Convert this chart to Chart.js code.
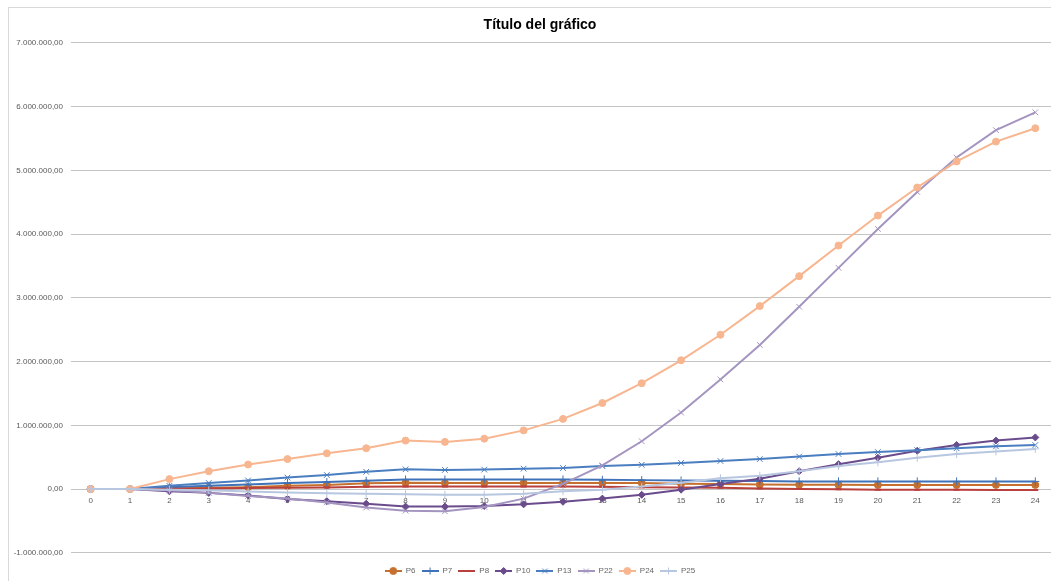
<!DOCTYPE html>
<html>
<head>
<meta charset="utf-8">
<script src="https://cdn.jsdelivr.net/npm/chart.js@4.4.1/dist/chart.umd.min.js"></script>
<style>
  html, body { margin: 0; padding: 0; background: #fff; overflow: hidden; }
  #frame {
    position: absolute; left: 8px; top: 7px;
    width: 1064px; height: 580px;
    border: 1px solid #d9d9d9;
  }
  #chart { display: block; }
</style>
</head>
<body>
<div id="frame"><canvas id="chart" width="1064" height="580"></canvas></div>
<script>
// Chart data
const periods = ['0','1','2','3','4','5','6','7','8','9','10','11','12','13','14','15','16','17','18','19','20','21','22','23','24'];

const p6  = [0, 0, 10000, 20000, 30000, 50000, 65000, 90000, 100000, 95000, 95000, 95000, 95000, 95000, 95000, 85000, 80000, 70000, 68000, 66000, 65000, 65000, 65000, 65000, 65000];
const p7  = [0, 0, 30000, 50000, 70000, 95000, 110000, 130000, 150000, 150000, 150000, 150000, 150000, 145000, 140000, 135000, 130000, 125000, 120000, 120000, 120000, 120000, 120000, 120000, 120000];
const p8  = [0, 0, 5000, 10000, 15000, 20000, 25000, 35000, 40000, 40000, 40000, 40000, 40000, 35000, 30000, 25000, 20000, 10000, 0, -5000, -10000, -10000, -10000, -15000, -15000];
const p10 = [0, 0, -35000, -60000, -100000, -155000, -190000, -230000, -275000, -275000, -265000, -240000, -200000, -150000, -90000, -10000, 80000, 160000, 280000, 390000, 490000, 600000, 690000, 760000, 810000];
const p13 = [0, 0, 50000, 95000, 135000, 180000, 220000, 270000, 310000, 300000, 305000, 320000, 330000, 360000, 380000, 410000, 440000, 470000, 510000, 550000, 580000, 610000, 640000, 670000, 690000];
const p22 = [0, 0, -20000, -60000, -110000, -150000, -210000, -290000, -340000, -350000, -280000, -150000, 80000, 370000, 750000, 1200000, 1720000, 2260000, 2860000, 3470000, 4080000, 4660000, 5200000, 5630000, 5910000];
const p24 = [0, 0, 156000, 280000, 385000, 470000, 560000, 640000, 760000, 740000, 790000, 920000, 1100000, 1350000, 1660000, 2020000, 2420000, 2870000, 3340000, 3820000, 4290000, 4730000, 5140000, 5450000, 5660000];
const p25 = [0, 0, -10000, -20000, -40000, -55000, -65000, -75000, -80000, -90000, -90000, -75000, -35000, -10000, 40000, 100000, 170000, 210000, 280000, 360000, 420000, 490000, 550000, 590000, 630000];

const seriesNames  = ['P6', 'P7', 'P8', 'P10', 'P13', 'P22', 'P24', 'P25'];
const seriesData   = [p6, p7, p8, p10, p13, p22, p24, p25];
const seriesColors = ['#C5702F', '#3F72B8', '#B9403D', '#6A4B8C', '#4A7EC0', '#A495C0', '#F7B690', '#B8C7E0'];
const seriesMarks  = ['circle', 'cross', 'line', 'rectRot', 'crossRot', 'crossRot', 'circle', 'cross'];
const seriesRadius = [3.5, 4, 3, 3.5, 4, 4, 3.5, 4];

// "7.000.000,00" style labels
function fmtNumber(v) {
    const neg = v < 0;
    const whole = Math.round(Math.abs(v)).toString();
    const grouped = whole.replace(/\B(?=(\d{3})+(?!\d))/g, '.');
    return (neg ? '-' : '') + grouped + ',00';
}

// small line+marker swatch for the legend
function makeSwatch(color, mark, radius) {
    const c = document.createElement('canvas');
    c.width = 17;
    c.height = 10;
    const g = c.getContext('2d');
    g.strokeStyle = color;
    g.fillStyle = color;
    g.lineWidth = 2;
    g.beginPath();
    g.moveTo(0, 5);
    g.lineTo(17, 5);
    g.stroke();
    g.lineWidth = 1;
    Chart.helpers.drawPoint(g, { pointStyle: mark, radius: Math.min(radius, 3.5), borderWidth: 1 }, 8.5, 5);
    return c;
}

function initChart() {
    const ctx = document.getElementById('chart');

    const datasets = seriesNames.map((name, i) => ({
        label: name,
        data: seriesData[i],
        borderColor: seriesColors[i],
        backgroundColor: seriesColors[i],
        borderWidth: 2,
        pointStyle: seriesMarks[i],
        pointRadius: seriesRadius[i],
        pointBorderWidth: seriesMarks[i] === 'line' ? 2 : 1,
        pointHoverRadius: seriesRadius[i],
        tension: 0,
        order: -i
    }));

    const swatches = seriesNames.map((n, i) => makeSwatch(seriesColors[i], seriesMarks[i], seriesRadius[i]));

    new Chart(ctx, {
        type: 'line',
        data: { labels: periods, datasets: datasets },
        options: {
            responsive: false,
            animation: false,
            layout: { padding: { left: 16, right: 18, top: 0, bottom: 3 } },
            plugins: {
                title: {
                    display: true,
                    text: 'Título del gráfico',
                    color: '#000',
                    font: { family: 'Liberation Sans', size: 14, weight: 'bold' },
                    padding: { top: 9, bottom: 9 }
                },
                legend: {
                    position: 'bottom',
                    title: {
                        display: true,
                        text: '',
                        font: { size: 1 },
                        padding: { top: 7, bottom: 0 }
                    },
                    labels: {
                        usePointStyle: true,
                        pointStyleWidth: 17,
                        boxHeight: 8,
                        padding: 6,
                        color: '#595959',
                        font: { family: 'Liberation Sans', size: 8 },
                        generateLabels: function(chart) {
                            return chart.data.datasets.map((ds, i) => ({
                                text: ds.label,
                                pointStyle: swatches[i],
                                fillStyle: ds.borderColor,
                                strokeStyle: ds.borderColor,
                                lineWidth: 0,
                                hidden: false,
                                datasetIndex: i
                            }));
                        }
                    }
                },
                tooltip: { enabled: false }
            },
            scales: {
                x: {
                    position: { y: 0 },
                    offset: true,
                    grid: { display: false, drawTicks: false },
                    border: { display: false },
                    ticks: {
                        color: '#595959',
                        font: { family: 'Liberation Sans', size: 8 },
                        maxRotation: 0,
                        autoSkip: false,
                        padding: 7
                    }
                },
                y: {
                    min: -1000000,
                    max: 7000000,
                    grid: { color: '#c4c4c4', lineWidth: 1, drawTicks: false },
                    border: { display: false },
                    ticks: {
                        stepSize: 1000000,
                        color: '#595959',
                        font: { family: 'Liberation Sans', size: 8 },
                        padding: 8,
                        callback: function(v) { return fmtNumber(v); }
                    },
                    afterFit: function(scale) {
                        scale.width = 46;
                        // labels are wider than the narrowed axis box; don't clip them
                        scale._computeLabelArea = function() { return undefined; };
                    }
                }
            }
        }
    });
}

initChart();
</script>
</body>
</html>
